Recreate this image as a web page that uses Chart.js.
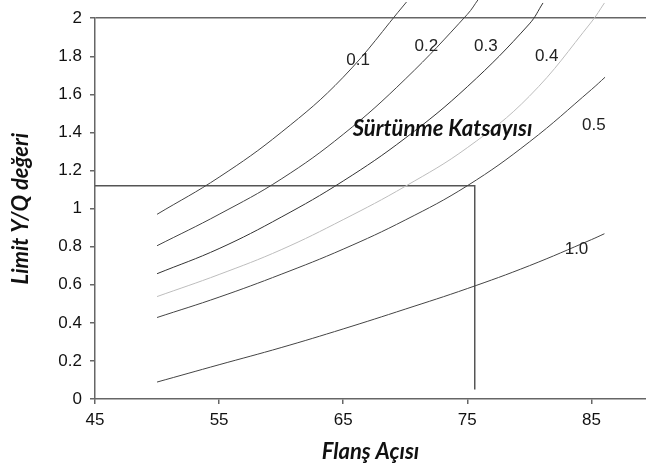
<!DOCTYPE html>
<html>
<head>
<meta charset="utf-8">
<script src="https://cdn.jsdelivr.net/npm/chart.js@4.4.0/dist/chart.umd.min.js"></script>
<style>
  html, body { margin: 0; padding: 0; background: #fff; }
  #wrap { width: 646px; height: 470px; }
</style>
</head>
<body>
<div id="wrap"><canvas id="grafik"></canvas></div>
<script>
// Veriler: sürtünme katsayısına göre limit Y/Q değeri - flanş açısı
var xTicks = [45, 55, 65, 75, 85];
var yTicks = [0, 0.2, 0.4, 0.6, 0.8, 1, 1.2, 1.4, 1.6, 1.8, 2];

var aci01 = [50, 55, 60, 65, 70.1];
var deg01 = [0.97, 1.165, 1.40, 1.69, 2.085];

var aci02 = [50, 55, 60, 65, 70, 75, 75.9];
var deg02 = [0.805, 0.97, 1.155, 1.39, 1.68, 2.02, 2.1];

var aci03 = [50, 55, 60, 65, 70, 75, 80, 81.1];
var deg03 = [0.658, 0.79, 0.955, 1.145, 1.37, 1.64, 1.97, 2.08];

var aci04 = [50, 55, 60, 65, 70, 75, 80, 85, 86.05];
var deg04 = [0.538, 0.654, 0.784, 0.942, 1.117, 1.32, 1.59, 1.98, 2.08];

var aci05 = [50, 55, 60, 65, 70, 75, 80, 85, 86.1];
var deg05 = [0.428, 0.535, 0.655, 0.787, 0.94, 1.12, 1.35, 1.625, 1.69];

var aci10 = [50, 55, 60, 65, 70, 75, 80, 85, 86.05];
var deg10 = [0.089, 0.18, 0.27, 0.368, 0.472, 0.58, 0.70, 0.837, 0.868];

// okuma çizgisi (75.6 derece -> 1.12)
var okumaX = [45, 75.6, 75.6];
var okumaY = [1.12, 1.12, 0.05];

// eğri etiketleri
var etiketler = ['0.1', '0.2', '0.3', '0.4', '0.5', '1.0'];
var etiketX = [66.2, 71.7, 76.5, 81.4, 85.2, 83.8];
var etiketY = [1.78, 1.85, 1.85, 1.80, 1.44, 0.784];

function noktalar(xs, ys) {
  return xs.map(function (x, i) { return { x: x, y: ys[i] }; });
}

function egri(xs, ys, renk) {
  return {
    data: noktalar(xs, ys),
    borderColor: renk,
    borderWidth: 1,
    pointRadius: 0,
    tension: 0.4,
    clip: false
  };
}

var etiketPlugin = {
  id: 'etiketler',
  afterDatasetsDraw: function (chart) {
    var c = chart.ctx, xs = chart.scales.x, ys = chart.scales.y;
    c.save();
    c.fillStyle = '#222';
    c.textAlign = 'center';
    c.textBaseline = 'middle';
    c.font = '17px "Liberation Sans", Arial, sans-serif';
    etiketler.forEach(function (t, i) {
      c.fillText(t, xs.getPixelForValue(etiketX[i]), ys.getPixelForValue(etiketY[i]));
    });
    c.font = 'italic bold 22px Lato, sans-serif';
    c.fillStyle = '#111';
    c.fillText('Sürtünme Katsayısı', xs.getPixelForValue(73.0), ys.getPixelForValue(1.42));
    c.restore();
  }
};

var ctx = document.getElementById('grafik').getContext('2d');
var grafik = new Chart(ctx, {
  type: 'line',
  data: {
    datasets: [
      egri(aci01, deg01, '#444'),
      egri(aci02, deg02, '#444'),
      egri(aci03, deg03, '#333'),
      egri(aci04, deg04, '#bdbdbd'),
      egri(aci05, deg05, '#444'),
      egri(aci10, deg10, '#444'),
      {
        data: noktalar(okumaX, okumaY),
        borderColor: '#555',
        borderWidth: 1.5,
        pointRadius: 0,
        tension: 0
      }
    ]
  },
  options: {
    responsive: true,
    maintainAspectRatio: false,
    animation: false,
    layout: { padding: { top: 18, right: 0, left: 0, bottom: 0 } },
    plugins: {
      legend: { display: false },
      tooltip: { enabled: false }
    },
    scales: {
      x: {
        type: 'linear',
        min: 45,
        max: 89.4,
        afterBuildTicks: function (s) { s.ticks = xTicks.map(function (v) { return { value: v }; }); },
        afterFit: function (s) { s.height = 71; },
        border: { color: '#666', width: 1.5 },
        grid: { drawOnChartArea: false, tickColor: '#666', tickLength: 5, lineWidth: 1.5 },
        ticks: {
          color: '#111',
          padding: 6,
          maxRotation: 0,
          font: { family: '"Liberation Sans", Arial, sans-serif', size: 17 }
        },
        title: {
          display: true,
          text: 'Flanş Açısı',
          color: '#111',
          padding: { top: 0, bottom: 5 },
          font: { family: 'Lato, sans-serif', size: 22, style: 'italic', weight: 'bold' }
        }
      },
      y: {
        min: 0,
        max: 2,
        afterBuildTicks: function (s) { s.ticks = yTicks.map(function (v) { return { value: v }; }); },
        afterFit: function (s) { s.width = 95; },
        border: { color: '#666', width: 1.5 },
        grid: {
          color: function (c) { return c.tick && c.tick.value === 2 ? '#666' : 'rgba(0,0,0,0)'; },
          lineWidth: 1.5,
          tickColor: '#666',
          tickLength: 5
        },
        ticks: {
          color: '#111',
          padding: 8,
          callback: function (v) { return String(v); },
          font: { family: '"Liberation Sans", Arial, sans-serif', size: 17 }
        },
        title: {
          display: true,
          text: 'Limit Y/Q değeri',
          color: '#111',
          padding: { top: 8, bottom: 0 },
          font: { family: 'Lato, sans-serif', size: 22, style: 'italic', weight: 'bold' }
        }
      }
    }
  },
  plugins: [etiketPlugin]
});
</script>
</body>
</html>
